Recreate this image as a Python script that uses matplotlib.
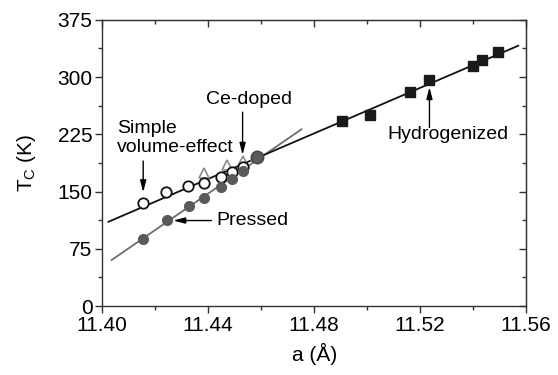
import numpy as np
import matplotlib.pyplot as plt
from matplotlib.ticker import MultipleLocator

plt.rcParams['font.family'] = ['Liberation Sans', 'DejaVu Sans']

# simple volume-effect (open circles)
a_volume = [11.4155, 11.4241, 11.4325, 11.4384, 11.4447, 11.4489, 11.4531]
tc_volume = [134.6, 149.9, 157.2, 161.6, 168.9, 175.5, 182.5]

# pressed (grey filled circles)
a_pressed = [11.4155, 11.4244, 11.4326, 11.4384, 11.4447, 11.4489, 11.4531, 11.4584]
tc_pressed = [87.5, 113.3, 131.1, 142.0, 155.9, 166.9, 176.8, 195.8]

# Ce-doped (open triangles)
a_ce = [11.4384, 11.4473, 11.4531, 11.4580]
tc_ce = [174.4, 184.2, 189.9, 196.0]

# hydrogenized (filled squares)
a_hyd = [11.4906, 11.5011, 11.5163, 11.5235, 11.5398, 11.5435, 11.5495]
tc_hyd = [242.1, 250.9, 280.9, 295.7, 314.9, 322.3, 332.3]

fig = plt.figure(figsize=(5.58, 3.75), dpi=100)
ax = fig.add_axes([0.183, 0.184, 0.760, 0.763])

# linear fits
fit_main = np.polyfit(a_volume + a_hyd, tc_volume + tc_hyd, 1)
xm = np.array([11.4024, 11.557])
ax.plot(xm, np.polyval(fit_main, xm), color='#111111', lw=1.3, zorder=2)

fit_pressed = np.polyfit(a_pressed, tc_pressed, 1)
xp = np.array([11.4036, 11.4752])
ax.plot(xp, np.polyval(fit_pressed, xp), color='#6e6e6e', lw=1.3, zorder=1)

ax.plot(a_ce, tc_ce, ls='none', marker='^', ms=7, mfc='white', mec='#8c8c8c', mew=1.2, zorder=3)
ax.plot(a_volume, tc_volume, ls='none', marker='o', ms=7.5, mfc='white', mec='#111111', mew=1.3, zorder=4)
ax.plot(a_pressed[:-1], tc_pressed[:-1], ls='none', marker='o', ms=7, mfc='#5a5a5a', mec='#5a5a5a', zorder=5)
ax.plot(a_pressed[-1:], tc_pressed[-1:], ls='none', marker='o', ms=9, mfc='#5a5a5a', mec='#444444', zorder=5)
ax.plot(a_hyd, tc_hyd, ls='none', marker='s', ms=6.8, mfc='#1a1a1a', mec='#1a1a1a', zorder=4)

arrow = dict(arrowstyle='-|>,head_length=0.7,head_width=0.18', color='black', lw=1.0, shrinkA=0, shrinkB=0)
ax.annotate('', xy=(11.4155, 149), xytext=(11.4155, 190), arrowprops=arrow)
ax.text(11.4055, 220, 'Simple\nvolume-effect', fontsize=14, ha='left', va='center', linespacing=1.15)
ax.annotate('', xy=(11.4530, 198), xytext=(11.4530, 254), arrowprops=arrow)
ax.text(11.4553, 270, 'Ce-doped', fontsize=14, ha='center', va='center')
ax.annotate('', xy=(11.4268, 112), xytext=(11.4413, 112), arrowprops=arrow)
ax.text(11.4432, 112, 'Pressed', fontsize=14, ha='left', va='center')
ax.annotate('', xy=(11.5235, 287), xytext=(11.5235, 234), arrowprops=arrow)
ax.text(11.5305, 225, 'Hydrogenized', fontsize=14, ha='center', va='center')

ax.set_xlim(11.40, 11.56)
ax.set_ylim(0, 375)
ax.xaxis.set_major_locator(MultipleLocator(0.04))
ax.xaxis.set_minor_locator(MultipleLocator(0.02))
ax.yaxis.set_major_locator(MultipleLocator(75))
ax.yaxis.set_minor_locator(MultipleLocator(37.5))
ax.xaxis.set_major_formatter(lambda v, p: f'{v:.2f}')

ax.tick_params(which='both', direction='out', colors='#333333', labelcolor='black', labelsize=15, pad=2)
ax.tick_params(which='major', length=5, width=1)
ax.tick_params(which='minor', length=3, width=1)
for s in ax.spines.values():
    s.set_color('#333333')
    s.set_linewidth(1.0)

# inward ticks on top and right, no labels
top = ax.secondary_xaxis('top')
right = ax.secondary_yaxis('right')
for sec in (top, right):
    sec.tick_params(which='both', direction='in', colors='#333333')
    sec.tick_params(which='major', length=5, width=1)
    sec.tick_params(which='minor', length=3, width=1)
top.xaxis.set_major_locator(MultipleLocator(0.04))
top.xaxis.set_minor_locator(MultipleLocator(0.02))
top.tick_params(labeltop=False)
right.yaxis.set_major_locator(MultipleLocator(75))
right.yaxis.set_minor_locator(MultipleLocator(37.5))
right.tick_params(labelright=False)

ax.set_xlabel('a (Å)', fontsize=15, labelpad=6)
ax.set_ylabel('T$_\\mathregular{C}$ (K)', fontsize=15, labelpad=14)

fig.savefig('out.png', dpi=100)
